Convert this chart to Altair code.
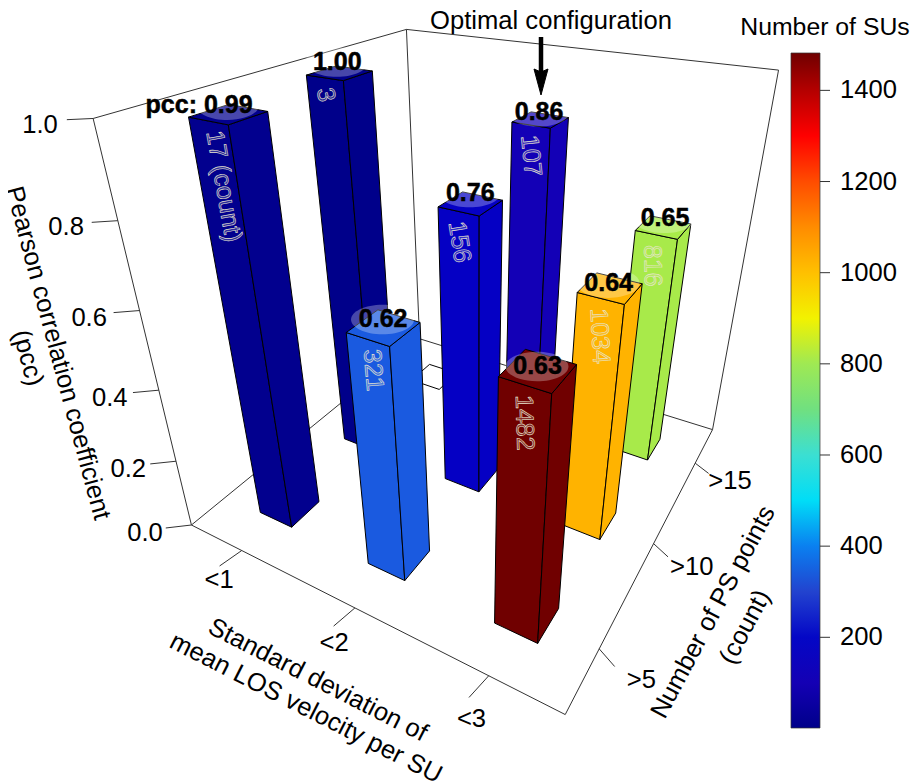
import altair as alt
import numpy as np
import pandas as pd

# --- values -----------------------------------------------------------
sd_labels = ["<1", "<2", "<3"]
ps_labels = [">5", ">10", ">15"]
sd_pos = [1/6, 1/2, 5/6]
ps_pos = [1/6, 1/2, 5/6]
bar_sd = [1, 2, 0, 1, 2, 0, 1, 2]
bar_ps = [2, 2, 1, 1, 1, 0, 0, 0]
bar_pcc = [0.86, 0.65, 1.00, 0.76, 0.64, 0.99, 0.62, 0.63]
bar_count = [107, 816, 3, 156, 1034, 17, 321, 1482]
bar_text = ["107", "816", "3", "156", "1034", "17 (count)", "321", "1482"]
bar_angle = [84, 89, 80, 81, 87, 80, 85, 88]
bar_text_dx = [0, -2, 2, 0, 0, 8, 6, 1]
pcc_text = ["0.86", "0.65", "1.00", "0.76", "0.64", "pcc: 0.99", "0.62", "0.63"]
pcc_dx = [-1, 2, -2, 0, -1, 0, 0, 0]
pcc_dy = [-1, -2, -4, -4, 2, -2, -1, 3]
z_ticks = [0.0, 0.2, 0.4, 0.6, 0.8, 1.0]
legend_ticks = [200, 400, 600, 800, 1000, 1200, 1400]
color_stops = [1, 60, 100, 170, 240, 280, 321, 400, 450, 510, 560, 640, 700, 816, 900, 960,
               1034, 1100, 1190, 1300, 1400, 1482]
color_range = ["#00008a", "#0a0098", "#1400b4", "#0000c8", "#0a10c4", "#2a2abe", "#1a5ae0",
               "#0a80f0", "#00b0f5", "#00e5f5", "#40dff0", "#55dcb0", "#70e080", "#a8ea4a",
               "#f2f200", "#ffd000", "#ffb300", "#ff8c00", "#ff5000", "#ff0000", "#b40000",
               "#700000"]

# --- camera: box corners and axis ticks seen in the picture ------------
camera_pts = [
    (0, 0, 0, 190, 523), (1, 0, 0, 567, 715), (1, 1, 0, 711, 428), (0, 1, 0, 422, 342),
    (0, 0, 1, 95, 120), (0, 1, 1, 405, 27), (1, 1, 1, 779, 71),
    (1/6, 0, 0, 241, 549), (1/2, 0, 0, 355, 608), (5/6, 0, 0, 489, 677),
    (1, 1/6, 0, 600, 650), (1, 1/2, 0, 653, 544), (1, 5/6, 0, 695, 462),
    (0, 0, .8, 118, 222), (0, 0, .6, 140, 311), (0, 0, .4, 158, 390), (0, 0, .2, 175, 460),
]
A, b = [], []
for X, Y, Z, u, v in camera_pts:
    A.append([X, Y, Z, 1, 0, 0, 0, 0, -u*X, -u*Y, -u*Z]); b.append(u)
    A.append([0, 0, 0, 0, X, Y, Z, 1, -v*X, -v*Y, -v*Z]); b.append(v)
m = np.linalg.lstsq(np.array(A, float), np.array(b, float), rcond=None)[0]
M = np.append(m, 1).reshape(3, 4)


def proj(X, Y, Z):
    p = M @ np.array([X, Y, Z, 1.0])
    return float(p[0]/p[2]), float(p[1]/p[2])


W, H = 903, 773
HW = 0.051  # half width of a bar footprint
FS = 25.6
xs = alt.X("px:Q", axis=None, scale=alt.Scale(domain=[8, 8+W], nice=False, zero=False))
ys = alt.Y("py:Q", axis=None, scale=alt.Scale(domain=[8+H, 8], nice=False, zero=False))

# --- faces ---------------------------------------------------------------
faces, k = [], 0


def add_face(pts, count):
    global k
    for s, p in enumerate(pts + pts[:1]):
        u, v = proj(*p)
        faces.append({"poly": k, "seq": s, "px": u, "py": v, "count": count})
    k += 1


for i in range(len(bar_count)):
    x0, y0, z = sd_pos[bar_sd[i]], ps_pos[bar_ps[i]], bar_pcc[i]
    l, r, f, bk = x0-HW, x0+HW, y0-HW, y0+HW
    add_face([(l, f, 0), (r, f, 0), (r, f, z), (l, f, z)], bar_count[i])
    add_face([(r, f, 0), (r, bk, 0), (r, bk, z), (r, f, z)], bar_count[i])
    add_face([(l, f, z), (r, f, z), (r, bk, z), (l, bk, z)], bar_count[i])
faces = pd.DataFrame(faces)

bars = alt.Chart(faces).mark_line(stroke="black", strokeWidth=1, strokeJoin="round").encode(
    x=xs, y=ys, detail="poly:N", order="seq:Q",
    fill=alt.Fill("count:Q",
                  scale=alt.Scale(domain=color_stops, range=color_range),
                  legend=alt.Legend(title=None, orient="none", legendX=783, legendY=45,
                                    direction="vertical", gradientLength=675, gradientThickness=29,
                                    values=legend_ticks, format="d", labelFontSize=FS,
                                    labelFont="Liberation Sans", labelColor="black", labelOffset=20,
                                    gradientStrokeColor="#333", gradientStrokeWidth=0.7)))

# --- empty footprint of the combination with no SUs ---------------------
fx, fy = sd_pos[0], ps_pos[2]
fp = [(fx-HW, fy-HW, 0), (fx+HW, fy-HW, 0), (fx+HW, fy+HW, 0), (fx-HW, fy+HW, 0), (fx-HW, fy-HW, 0)]
fpdf = pd.DataFrame([{"seq": s, "px": proj(*p)[0], "py": proj(*p)[1]} for s, p in enumerate(fp)])
foot = alt.Chart(fpdf).mark_line(stroke="black", strokeWidth=1, fill="white").encode(x=xs, y=ys, order="seq:Q")


def z_tick_end(zv):
    shrink = 1 - .25*zv
    return (-.0465*shrink, -.038*shrink, zv)


# --- box edges and ticks -------------------------------------------------
edges_world = [
    [(0, 0, 1), (0, 1, 1), (1, 1, 1), (1, 1, 0), (1, 0, 0), (0, 0, 0), (0, 0, 1)],
    [(0, 0, 0), (0, 1, 0), (1, 1, 0)],
    [(0, 1, 1), (0, 1, 0)],
]
for xv in sd_pos:
    edges_world.append([(xv, 0, 0), (xv-.01, -.06, 0)])
for yv in ps_pos:
    edges_world.append([(1, yv, 0), (1.043, yv-.023, 0)])
for zv in z_ticks:
    edges_world.append([(0, 0, zv), z_tick_end(zv)])
rows = []
for e, line in enumerate(edges_world):
    for s, p in enumerate(line):
        u, v = proj(*p)
        rows.append({"edge": e, "seq": s, "px": u, "py": v})
box = alt.Chart(pd.DataFrame(rows)).mark_line(stroke="#333333", strokeWidth=1).encode(
    x=xs, y=ys, detail="edge:N", order="seq:Q")


def text_layer(rows, angle=0, size=FS, weight="normal", align="center", baseline="middle", color="black", **kw):
    return alt.Chart(pd.DataFrame(rows)).mark_text(
        font="Liberation Sans", fontSize=size, fontWeight=weight, align=align, baseline=baseline,
        angle=angle, color=color, **kw).encode(x=xs, y=ys, text="t:N")


def at(world, t, dx=0, dy=0):
    u, v = proj(*world)
    return {"px": u+dx, "py": v+dy, "t": t}


layers = [box, foot, bars]

# --- ellipses, pcc labels, count labels ----------------------------------
ell, pcc_rows = [], []
for i in range(len(bar_count)):
    u, v = proj(sd_pos[bar_sd[i]], ps_pos[bar_ps[i]], bar_pcc[i])
    yy = v-7+pcc_dy[i]
    ell.append({"px": u-1+pcc_dx[i], "py": yy})
    pcc_rows.append({"px": u+24+pcc_dx[i], "py": yy, "t": pcc_text[i]})
ELL = "M-1,0 A1,0.47 0 1,1 1,0 A1,0.47 0 1,1 -1,0 Z"
layers.append(alt.Chart(pd.DataFrame(ell)).mark_point(
    shape=ELL, size=3969, filled=True, fill="white", opacity=0.28).encode(x=xs, y=ys))
for i in range(len(bar_count)):
    u, v = proj(sd_pos[bar_sd[i]], ps_pos[bar_ps[i]]-HW, bar_pcc[i])
    layers.append(text_layer([{"px": u-2+bar_text_dx[i], "py": v+10, "t": bar_text[i]}], angle=bar_angle[i], size=25,
                             align="left", color="#e8e6d0", fillOpacity=0.2, stroke="#e8e6d0", strokeWidth=0.6))
layers.append(text_layer(pcc_rows, size=25, weight="bold", align="right", stroke="black", strokeWidth=0.5))

# --- axis labels ---------------------------------------------------------
layers.append(text_layer([at((xv-.015, -.12, 0), t, dx=21, dy=-3) for xv, t in zip(sd_pos, sd_labels)]))
layers.append(text_layer([at((1.10, yv-.025, 0), t) for yv, t in zip(ps_pos, ps_labels)]))
layers.append(text_layer([at(z_tick_end(zv), f"{zv:.1f}", dx=-3-6*zv, dy=5) for zv in z_ticks], align="right"))

layers.append(text_layer([{"px": 58, "py": 353, "t": "Pearson correlation coefficient"}], angle=75))
layers.append(text_layer([{"px": 28, "py": 358, "t": "(pcc)"}], angle=75))
layers.append(text_layer([{"px": 318, "py": 680, "t": "Standard deviation of"}], angle=27))
layers.append(text_layer([{"px": 306, "py": 708, "t": "mean LOS velocity per SU"}], angle=27))
layers.append(text_layer([{"px": 713, "py": 612, "t": "Number of PS points"}], angle=298))
layers.append(text_layer([{"px": 745, "py": 627, "t": "(count)"}], angle=298))
layers.append(text_layer([{"px": 551, "py": 21, "t": "Optimal configuration"}]))
layers.append(text_layer([{"px": 825, "py": 28, "t": "Number of SUs"}], size=24.8))

# --- annotation arrow ----------------------------------------------------
arrow_x, arrow_top, arrow_neck, arrow_tip, arrow_half = 541, 37, 72, 95, 7
layers.append(alt.Chart(pd.DataFrame([{"px": arrow_x, "py": arrow_top}, {"px": arrow_x, "py": arrow_neck}])).mark_line(
    stroke="black", strokeWidth=4.5).encode(x=xs, y=ys))
head = [(arrow_x-arrow_half, arrow_neck-3), (arrow_x, arrow_tip), (arrow_x+arrow_half, arrow_neck-3), (arrow_x, arrow_neck)]
layers.append(alt.Chart(pd.DataFrame([{"seq": s, "px": a, "py": c} for s, (a, c) in enumerate(head+head[:1])])).mark_line(
    stroke="black", strokeWidth=1, fill="black").encode(x=xs, y=ys, order="seq:Q"))

# --- colour bar tick marks ----------------------------------------------
BAR_TOP, BAR_LEN, BAR_RIGHT = 53, 675, 820
tick_rows = []
for e, v in enumerate(legend_ticks):
    yy = BAR_TOP + (color_stops[-1]-v)/(color_stops[-1]-color_stops[0])*BAR_LEN
    for s, xx in enumerate((BAR_RIGHT, BAR_RIGHT+10)):
        tick_rows.append({"edge": e, "seq": s, "px": xx, "py": yy})
layers.append(alt.Chart(pd.DataFrame(tick_rows)).mark_line(stroke="#333333", strokeWidth=1).encode(
    x=xs, y=ys, detail="edge:N", order="seq:Q"))

chart = alt.layer(*layers).properties(
    width=W, height=H, padding=0, autosize=alt.AutoSizeParams(type="none"), background="white"
).configure_view(stroke=None)

chart.save("out.html", embed_options={"renderer": "svg", "actions": False})
